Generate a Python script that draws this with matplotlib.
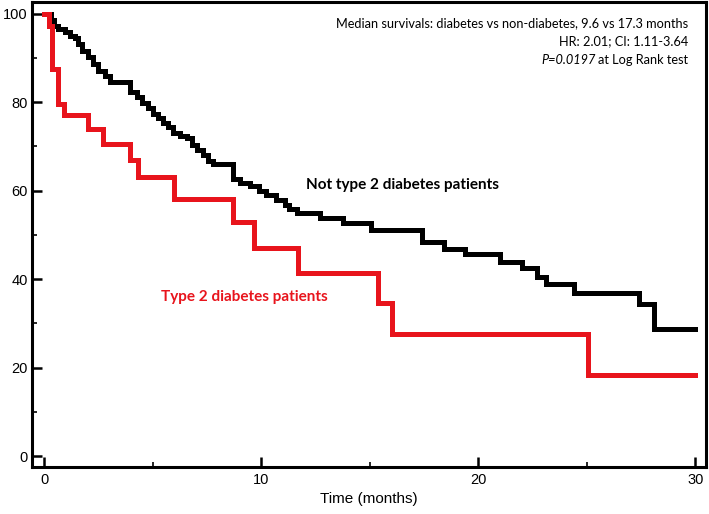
import matplotlib
matplotlib.use("Agg")
import matplotlib.pyplot as plt
from matplotlib.ticker import MultipleLocator

# Kaplan-Meier step data (time in months, survival %)
black_t = [0, 0.3, 0.45, 0.65, 0.95, 1.18, 1.41, 1.55, 1.72, 2.01, 2.24, 2.47, 2.8, 3.03,
           3.97, 4.25, 4.5, 4.78, 5.0, 5.25, 5.47, 5.7, 5.93, 6.25, 6.58, 6.8, 7.03, 7.3,
           7.55, 7.78, 8.7, 9.0, 9.5, 9.9, 10.2, 10.7, 11.1, 11.3, 11.63, 12.7, 13.75,
           15.05, 17.4, 18.4, 19.4, 21.0, 22.0, 22.7, 23.1, 24.4, 27.4, 28.1, 30.0]
black_s = [100, 98.6, 97.3, 96.5, 95.8, 95.0, 94.4, 93.2, 91.6, 90.1, 88.7, 87.1, 86.0, 84.5,
           82.3, 81.1, 79.7, 78.6, 77.4, 76.3, 75.2, 74.3, 73.1, 72.4, 71.8, 70.2, 69.1, 68.0,
           66.8, 66.1, 62.6, 61.8, 61.0, 59.8, 59.1, 57.9, 56.8, 55.9, 55.0, 53.7, 52.6,
           51.0, 48.4, 46.9, 45.6, 43.9, 42.4, 40.5, 38.8, 36.9, 34.3, 28.7, 28.7]

red_t = [0, 0.2, 0.35, 0.65, 0.92, 2.0, 2.7, 3.95, 4.32, 6.0, 8.68, 9.65, 11.68,
         15.38, 16.02, 25.04, 30.0]
red_s = [100, 97.1, 87.5, 79.6, 77.0, 74.0, 70.6, 67.0, 63.0, 58.1, 52.9, 47.0, 41.3,
         34.5, 27.6, 18.3, 18.3]

x_ticks = [0, 10, 20, 30]
y_ticks = [0, 20, 40, 60, 80, 100]

label_black = "Not type 2 diabetes patients"
label_red = "Type 2 diabetes patients"
x_label = "Time (months)"

RED = "#e8141c"

fig = plt.figure(figsize=(7.09, 5.14), dpi=100)
ax = fig.add_axes([0.045, 0.091, 0.951, 0.905])

ax.step(black_t, black_s, where="post", color="black", lw=3.6, solid_joinstyle="miter")
ax.step(red_t, red_s, where="post", color=RED, lw=3.6, solid_joinstyle="miter")

ax.set_xlim(-0.57, 30.5)
ax.set_ylim(-2.5, 102.6)
ax.set_xticks(x_ticks)
ax.set_yticks(y_ticks)
ax.xaxis.set_minor_locator(MultipleLocator(5))
ax.yaxis.set_minor_locator(MultipleLocator(10))
ax.tick_params(which="major", direction="in", length=7, width=1.8, labelsize=10.5, pad=4)
ax.tick_params(which="minor", direction="in", length=3.5, width=1.2)
ax.tick_params(axis="y", which="major", pad=3)
for lab in ax.get_xticklabels() + ax.get_yticklabels():
    lab.set_family("Liberation Sans")
for sp in ax.spines.values():
    sp.set_linewidth(2.2)

ax.set_xlabel(x_label, family="Liberation Sans", fontsize=11, labelpad=4)

ax.text(16.5, 61.2, label_black, fontsize=11, fontweight="bold", family="Lato",
        ha="center", va="center", color="black")
ax.text(9.2, 35.9, label_red, fontsize=11, fontweight="bold", family="Lato",
        ha="center", va="center", color=RED)

xr = 0.973
ax.text(xr, 0.954, "Median survivals: diabetes vs non-diabetes, 9.6 vs 17.3 months",
        transform=ax.transAxes, ha="right", va="center", fontsize=9.2, family="Lato")
ax.text(xr, 0.915, "HR: 2.01; CI: 1.11-3.64",
        transform=ax.transAxes, ha="right", va="center", fontsize=9.2, family="Lato")
t3 = ax.text(xr, 0.876, "at Log Rank test",
             transform=ax.transAxes, ha="right", va="center", fontsize=9.2, family="Lato")
fig.canvas.draw()
bb = t3.get_window_extent()
inv = ax.transAxes.inverted()
x_left = inv.transform((bb.x0, bb.y0))[0]
ax.text(x_left - 0.004, 0.876, "P=0.0197", transform=ax.transAxes, ha="right", va="center",
        fontsize=9.2, family="Lato", style="italic")

fig.savefig("out.png", dpi=100)
